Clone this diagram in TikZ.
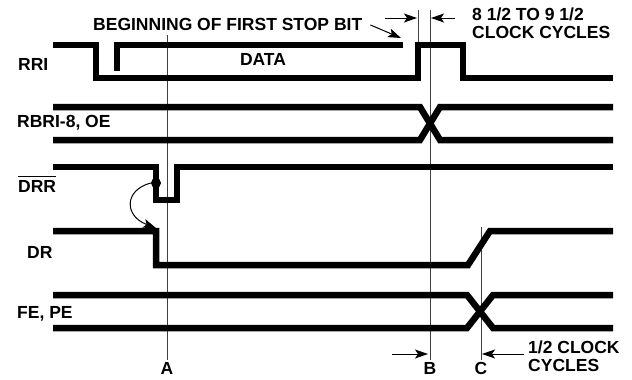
\documentclass[tikz,border=0pt]{standalone}
\usepackage{fontspec}
\setmainfont{Liberation Sans}
\usetikzlibrary{arrows.meta}
\begin{document}
\begin{tikzpicture}[x=1pt,y=-1pt,
  sig/.style={line width=6.5pt, line join=miter, line cap=butt},
  guide/.style={line width=0.8pt, black!75},
  lbl/.style={font=\fontsize{17.5}{17.5}\selectfont\bfseries, inner sep=0pt},
  arr/.style={-{Stealth[length=13pt,width=9pt,inset=3pt]}, line width=1pt}]
\useasboundingbox (0,0) rectangle (632,380);
\fill[white] (0,0) rectangle (632,380);

% guide lines
\coordinate (Atop) at (167,35);   \coordinate (Abot) at (167,360);
\coordinate (Btop) at (430,10);   \coordinate (Bbot) at (430,360);
\coordinate (Stop) at (418,10);   \coordinate (Sbot) at (418,42);
\coordinate (Ctop) at (481,227);  \coordinate (Cbot) at (481,360);
\draw[guide] (Atop) -- (Abot);
\draw[guide] (Btop) -- (Bbot);
\draw[guide] (Stop) -- (Sbot);
\draw[guide] (Ctop) -- (Cbot);

% RRI
\draw[sig] (53,45) -- (96,45) -- (96,78) -- (418,78) -- (418,45) -- (463,45) -- (463,78) -- (613,78);
\draw[sig] (117,71) -- (117,45) -- (403,45);
% RBRI-8, OE
\draw[sig] (53,107) -- (420,107) -- (440,140) -- (613,140);
\draw[sig] (53,140) -- (420,140) -- (440,107) -- (613,107);
% DRR
\draw[sig] (53,167) -- (156,167) -- (156,200) -- (177,200) -- (177,167) -- (613,167);
% DR
\draw[sig] (53,231) -- (156,231) -- (156,265) -- (468,265) -- (490,231) -- (613,231);
% FE, PE
\draw[sig] (53,295) -- (467,295) -- (493,328) -- (613,328);
\draw[sig] (53,328) -- (467,328) -- (493,295) -- (613,295);

% signal labels
\node[lbl, anchor=base west] (rri) at (18,70) {RRI};
\node[lbl, anchor=base west] (rbri) at (17,127) {RBRI-8, OE};
\node[lbl, anchor=base west] (drr) at (18,192) {DRR};
\draw[line width=1pt] ([yshift=3pt]drr.north west) -- ([yshift=3pt]drr.north east);
\node[lbl, anchor=base west] (dr) at (27,258) {DR};
\node[lbl, anchor=base west] (fe) at (17,318) {FE, PE};
\node[lbl, anchor=base] (data) at (263,65) {DATA};

% DRR -> DR causality
\node[circle, fill=black, inner sep=0pt, minimum size=10pt] (dot) at (156,183) {};
\coordinate (drfall) at (156,228);
\draw[arr] (dot.west) .. controls (124,190) and (124,216) .. (drfall);

% top annotations
\node[lbl, anchor=base west] (stopbit) at (93,30) {BEGINNING OF FIRST STOP BIT};
\coordinate (stopend) at (401,38);
\draw[arr] ([xshift=8pt,yshift=-1pt]stopbit.east) -- (stopend);
\coordinate (tl1) at (385,18); \coordinate (tl2) at (417,18);
\coordinate (tr1) at (455,18); \coordinate (tr2) at (431,18);
\draw[arr] (tl1) -- (tl2);
\draw[arr] (tr1) -- (tr2);
\node[lbl, anchor=north west, align=left, font=\fontsize{17.5}{18}\selectfont\bfseries] (cyc) at (472,7.5) {8 1/2 TO 9 1/2\\CLOCK CYCLES};

% bottom annotations
\coordinate (bl1) at (392,354); \coordinate (bl2) at (428,354);
\coordinate (br1) at (524,354); \coordinate (br2) at (482,354);
\draw[arr] (bl1) -- (bl2);
\draw[arr] (br1) -- (br2);
\node[lbl, anchor=north west, align=left] (half) at (528,341) {1/2 CLOCK\\CYCLES};

\node[lbl, anchor=north] (la) at (167,362) {A};
\node[lbl, anchor=north] (lb) at (430,362) {B};
\node[lbl, anchor=north] (lc) at (481,362) {C};
\end{tikzpicture}
\end{document}
